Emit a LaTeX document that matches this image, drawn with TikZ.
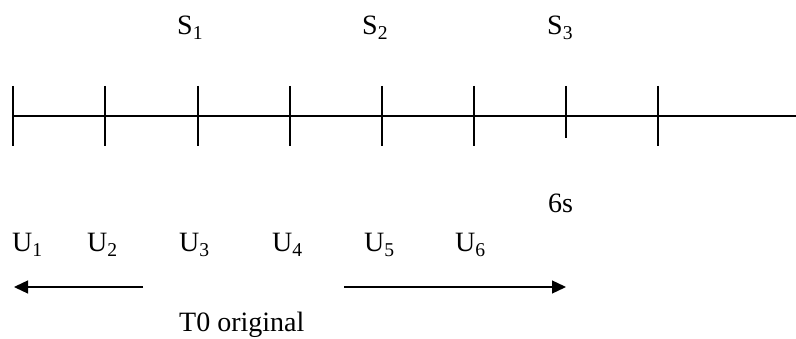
\documentclass[tikz,border=0pt]{standalone}
\usepackage{fontspec}
\setmainfont{Liberation Serif}
\usetikzlibrary{arrows.meta}
\begin{document}
\begin{tikzpicture}[x=1pt,y=-1pt,
  lbl/.style={inner sep=0pt,anchor=base west,font=\fontsize{28}{34}\selectfont},
  axisline/.style={line width=1.3pt},
  tickline/.style={line width=1.3pt},
  arr/.style={line width=1.3pt,-{Triangle[length=14pt,width=13pt]}}]
\useasboundingbox (0,0) rectangle (796,339);
% axis
\coordinate (a0) at (13,116);
\coordinate (a1) at (796,116);
\draw[axisline] (a0) -- (a1);
% ticks
\foreach \x/\n in {13/1,105/2,198/3,290/4,382/5,474/6,658/8}{
  \coordinate (t\n a) at (\x,86);
  \coordinate (t\n b) at (\x,146);
  \draw[tickline] (t\n a) -- (t\n b);
}
\coordinate (t7a) at (566,86);
\coordinate (t7b) at (566,138);
\draw[tickline] (t7a) -- (t7b);
% S labels
\node[lbl] (s1) at (177,35) {S\textsubscript{1}};
\node[lbl] (s2) at (362,35) {S\textsubscript{2}};
\node[lbl] (s3) at (547,35) {S\textsubscript{3}};
% 6s
\node[lbl] (six) at (548,213) {6s};
% U labels
\node[lbl] (u1) at (12,252) {U\textsubscript{1}};
\node[lbl] (u2) at (87,252) {U\textsubscript{2}};
\node[lbl] (u3) at (179,252) {U\textsubscript{3}};
\node[lbl] (u4) at (272,252) {U\textsubscript{4}};
\node[lbl] (u5) at (364,252) {U\textsubscript{5}};
\node[lbl] (u6) at (455,252) {U\textsubscript{6}};
% arrows
\coordinate (la) at (143,287);
\coordinate (lb) at (14,287);
\draw[arr] (la) -- (lb);
\coordinate (ra) at (344,287);
\coordinate (rb) at (566,287);
\draw[arr] (ra) -- (rb);
% caption
\node[lbl] (cap) at (179,332) {T0 original};
\end{tikzpicture}
\end{document}
